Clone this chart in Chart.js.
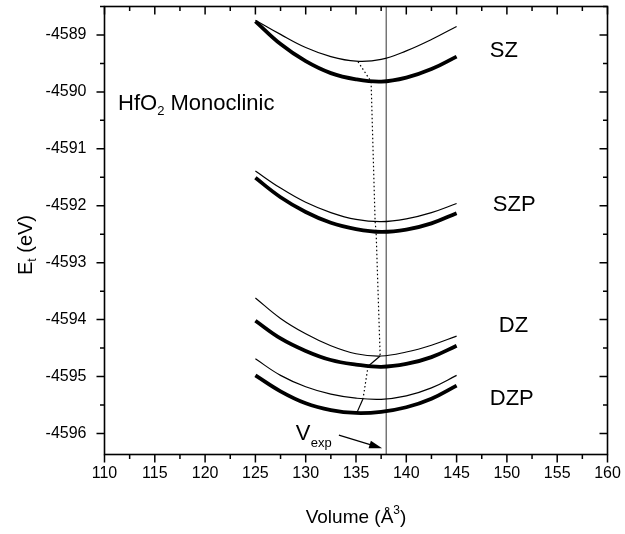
<!DOCTYPE html>
<html>
<head>
<meta charset="utf-8">
<script src="https://cdn.jsdelivr.net/npm/chart.js@4.4.0/dist/chart.umd.min.js"></script>
<style>
body{margin:0;background:#fff;}
#wrap{width:625px;height:534px;position:relative;}
</style>
</head>
<body>
<div id="wrap"><canvas id="myChart"></canvas></div>
<script>
// volumes (A^3) where the curves were read
var volume = [125, 127.5, 130, 132.5, 135, 137.5, 140, 142.5, 145];

// total energy (eV), thin = first set, thick = second set
var szThin   = [-4588.74, -4588.99, -4589.22, -4589.38, -4589.46, -4589.43, -4589.28, -4589.08, -4588.85];
var szThick  = [-4588.76, -4589.16, -4589.46, -4589.67, -4589.78, -4589.82, -4589.75, -4589.60, -4589.38];
var szpThin  = [-4591.39, -4591.69, -4591.94, -4592.12, -4592.24, -4592.28, -4592.23, -4592.12, -4591.96];
var szpThick = [-4591.51, -4591.85, -4592.11, -4592.30, -4592.41, -4592.46, -4592.42, -4592.31, -4592.13];
var dzThin   = [-4593.62, -4593.98, -4594.25, -4594.46, -4594.60, -4594.64, -4594.57, -4594.45, -4594.29];
var dzThick  = [-4594.02, -4594.33, -4594.55, -4594.71, -4594.79, -4594.83, -4594.78, -4594.66, -4594.46];
var dzpThin  = [-4594.69, -4594.98, -4595.18, -4595.31, -4595.38, -4595.40, -4595.34, -4595.20, -4594.98];
var dzpThick = [-4594.98, -4595.26, -4595.47, -4595.59, -4595.64, -4595.62, -4595.54, -4595.39, -4595.16];

// path through the minima
var minDotted1 = [[135.2, -4589.47], [136.5, -4589.82], [136.9, -4592.28], [137.0, -4592.46], [137.4, -4594.64]];
var minSolid1  = [[137.4, -4594.64], [136.2, -4594.82]];
var minDotted2 = [[136.2, -4594.82], [135.7, -4595.39]];
var minSolid2  = [[135.7, -4595.39], [135.1, -4595.63]];

var vExp = 138;
var xMin = 110, xMax = 160;
var yMin = -4596.37, yMax = -4588.5;

var fam = '"Liberation Sans", Arial, Helvetica, sans-serif';

function pts(xs, ys){
	return xs.map(function(x, i){ return {x: x, y: ys[i]}; });
}
function pairs(arr){
	return arr.map(function(p){ return {x: p[0], y: p[1]}; });
}
function curve(ys, w){
	return { data: pts(volume, ys), showLine: true, borderColor: '#000', borderWidth: w,
		pointRadius: 0, tension: 0.4, fill: false };
}

// text in pieces (for sub / superscripts)
function richText(ctx, parts, x, y, align){
	var w = 0;
	parts.forEach(function(p){
		ctx.font = p.size + 'px ' + fam;
		p.w = ctx.measureText(p.t).width;
		w += p.w;
	});
	var cx = align === 'center' ? x - w / 2 : x;
	parts.forEach(function(p){
		ctx.font = p.size + 'px ' + fam;
		ctx.fillText(p.t, cx, y + (p.dy || 0));
		cx += p.w;
	});
}

var framePlugin = {
	id: 'frame',
	afterDatasetsDraw: function(chart){
		var ctx = chart.ctx;
		var a = chart.chartArea;
		var xs = chart.scales.x, ys = chart.scales.y;
		ctx.save();
		ctx.strokeStyle = '#000';
		ctx.fillStyle = '#000';

		// box
		ctx.lineWidth = 1.6;
		ctx.strokeRect(a.left, a.top, a.right - a.left, a.bottom - a.top);

		// ticks, out on left/bottom, in on top/right
		ctx.lineWidth = 1.5;
		ctx.beginPath();
		for (var v = xMin; v <= xMax + 0.001; v += 2.5) {
			var px = xs.getPixelForValue(v);
			var len = (v % 5 === 0) ? 8 : 4.5;
			ctx.moveTo(px, a.bottom); ctx.lineTo(px, a.bottom + len);
			ctx.moveTo(px, a.top); ctx.lineTo(px, a.top + len);
		}
		for (var k = Math.ceil(yMin * 2) / 2; k <= yMax + 0.001; k += 0.5) {
			var py = ys.getPixelForValue(k);
			var l2 = (Math.abs(k - Math.round(k)) < 0.01) ? 8 : 4.5;
			ctx.moveTo(a.left - l2, py); ctx.lineTo(a.left, py);
			ctx.moveTo(a.right - l2, py); ctx.lineTo(a.right, py);
		}
		ctx.stroke();

		ctx.textBaseline = 'alphabetic';
		ctx.textAlign = 'left';

		// axis titles
		richText(ctx, [{t: 'Volume (Å', size: 19}, {t: '3', size: 12, dy: -9}, {t: ')', size: 19}],
			(a.left + a.right) / 2, 523, 'center');
		ctx.save();
		ctx.translate(32, 245);
		ctx.rotate(-Math.PI / 2);
		richText(ctx, [{t: 'E', size: 20}, {t: 't', size: 12, dy: 4}, {t: ' (eV)', size: 20}], 0, 0, 'center');
		ctx.restore();

		// set labels
		var labs = [['SZ', 148.3, -4589.39], ['SZP', 148.6, -4592.09], ['DZ', 149.2, -4594.22], ['DZP', 148.3, -4595.50]];
		labs.forEach(function(l){
			richText(ctx, [{t: l[0], size: 22}], xs.getPixelForValue(l[1]), ys.getPixelForValue(l[2]), 'left');
		});
		richText(ctx, [{t: 'HfO', size: 22}, {t: '2', size: 13, dy: 5}, {t: ' Monoclinic', size: 22}],
			xs.getPixelForValue(111.35), ys.getPixelForValue(-4590.32), 'left');

		// V_exp with arrow
		richText(ctx, [{t: 'V', size: 22}], xs.getPixelForValue(129.0), ys.getPixelForValue(-4596.12), 'left');
		richText(ctx, [{t: 'exp', size: 13}], xs.getPixelForValue(130.5), ys.getPixelForValue(-4596.24), 'left');
		var x1 = xs.getPixelForValue(133.3), y1 = ys.getPixelForValue(-4596.03);
		var x2 = xs.getPixelForValue(137.6), y2 = ys.getPixelForValue(-4596.26);
		var ang = Math.atan2(y2 - y1, x2 - x1);
		ctx.lineWidth = 1.2;
		ctx.beginPath();
		ctx.moveTo(x1, y1);
		ctx.lineTo(x2 - 10 * Math.cos(ang), y2 - 10 * Math.sin(ang));
		ctx.stroke();
		ctx.beginPath();
		ctx.moveTo(x2, y2);
		ctx.lineTo(x2 - 13 * Math.cos(ang) + 4 * Math.sin(ang), y2 - 13 * Math.sin(ang) - 4 * Math.cos(ang));
		ctx.lineTo(x2 - 13 * Math.cos(ang) - 4 * Math.sin(ang), y2 - 13 * Math.sin(ang) + 4 * Math.cos(ang));
		ctx.closePath();
		ctx.fill();
		ctx.restore();
	}
};

function renderChart(){
	var ctx = document.getElementById('myChart').getContext('2d');
	var datasets = [
		curve(szThin, 1.2), curve(szThick, 3.8),
		curve(szpThin, 1.2), curve(szpThick, 3.8),
		curve(dzThin, 1.2), curve(dzThick, 3.8),
		curve(dzpThin, 1.2), curve(dzpThick, 3.8),
		{ data: pairs(minDotted1), showLine: true, borderColor: '#000', borderWidth: 1.2, borderDash: [1.5, 2.5], pointRadius: 0 },
		{ data: pairs(minSolid1), showLine: true, borderColor: '#000', borderWidth: 1.2, pointRadius: 0 },
		{ data: pairs(minDotted2), showLine: true, borderColor: '#000', borderWidth: 1.2, borderDash: [1.5, 2.5], pointRadius: 0 },
		{ data: pairs(minSolid2), showLine: true, borderColor: '#000', borderWidth: 1.2, pointRadius: 0 },
		{ data: [{x: vExp, y: yMin}, {x: vExp, y: yMax}], showLine: true, borderColor: '#333', borderWidth: 1, pointRadius: 0 }
	];
	var chart = new Chart(ctx, {
		type: 'scatter',
		data: { datasets: datasets },
		options: {
			responsive: true,
			maintainAspectRatio: false,
			animation: false,
			layout: { padding: { top: 6.5, right: 17.5, left: 0, bottom: 0 } },
			plugins: { legend: { display: false }, tooltip: { enabled: false } },
			scales: {
				x: {
					type: 'linear', min: xMin, max: xMax,
					border: { display: false },
					grid: { drawOnChartArea: false, drawTicks: true, tickLength: 8, tickColor: 'rgba(0,0,0,0)' },
					ticks: { stepSize: 5, includeBounds: false, padding: 1, color: '#000', maxRotation: 0, autoSkip: false,
						font: { size: 16, family: fam }, callback: function(v){ return String(v); } },
					afterFit: function(s){ s.height = 79.5; s.paddingLeft = 0; s.paddingRight = 0; }
				},
				y: {
					type: 'linear', min: yMin, max: yMax,
					border: { display: false },
					grid: { drawOnChartArea: false, drawTicks: true, tickLength: 8, tickColor: 'rgba(0,0,0,0)' },
					ticks: { stepSize: 1, includeBounds: false, padding: 10, color: '#000', autoSkip: false,
						font: { size: 16, family: fam }, callback: function(v){ return String(v); } },
					afterFit: function(s){ s.width = 104.5; s.paddingTop = 0; s.paddingBottom = 0; }
				}
			}
		},
		plugins: [framePlugin]
	});
}
renderChart();
</script>
</body>
</html>
